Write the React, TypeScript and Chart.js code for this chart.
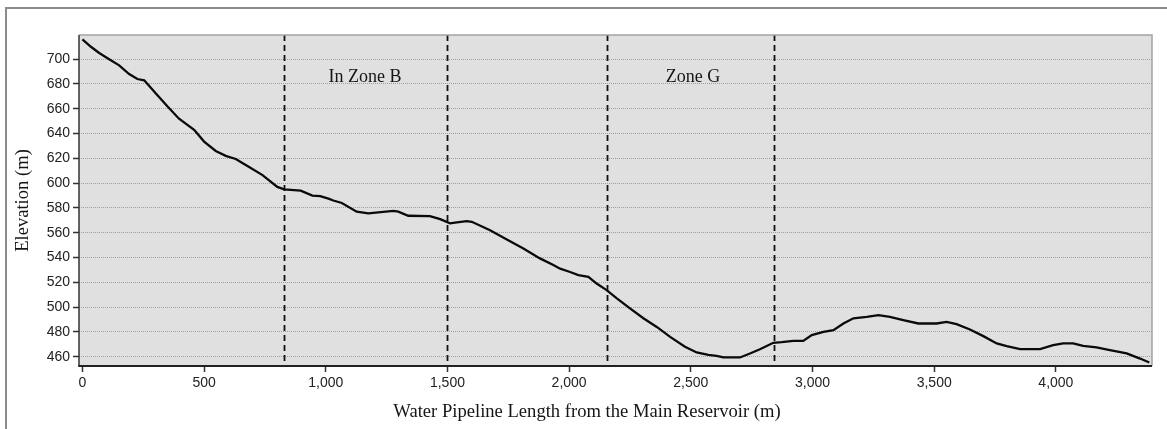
import React, { useEffect, useRef } from "react";
import { Chart, registerables } from "chart.js";

Chart.register(...registerables);

// Pipeline profile: distance (m) and elevation (m)
const distances = [
  0, 35, 69, 110, 151, 192, 226, 254, 301, 349, 397, 459, 500, 548, 589, 630,
  685, 740, 801, 829, 897, 945, 977, 1011, 1031, 1066, 1127, 1175, 1216, 1278,
  1298, 1339, 1428, 1470, 1511, 1531, 1579, 1600, 1675, 1744, 1812, 1880, 1935,
  1963, 2004, 2038, 2079, 2113, 2154, 2196, 2250, 2305, 2360, 2415, 2476, 2524,
  2572, 2606, 2634, 2702, 2743, 2784, 2839, 2873, 2921, 2962, 2997, 3045, 3086,
  3127, 3168, 3223, 3271, 3318, 3373, 3435, 3510, 3551, 3592, 3647, 3702, 3757,
  3798, 3853, 3935, 3989, 4030, 4071, 4112, 4167, 4222, 4291, 4346, 4384,
];
const elevations = [
  716, 710, 705, 700, 695, 688, 684, 683, 672.5, 662, 652, 643, 633.5, 626, 622,
  619.5, 613, 606.5, 597, 595, 594, 590, 589.6, 587.5, 586, 584, 577, 575.6,
  576.4, 577.7, 577, 573.7, 573.4, 571, 567.6, 568.1, 569.4, 568.8, 562, 554.6,
  547.3, 539.3, 534, 531, 528.3, 525.8, 524.5, 519, 513.7, 507, 499, 491, 484,
  476, 468, 463.4, 461.5, 460.7, 459.4, 459.4, 462.6, 466, 471.2, 471.7, 472.8,
  472.8, 477.4, 480, 481.4, 486.8, 491, 492.2, 493.5, 492.2, 489.6, 486.8, 486.8,
  488.1, 486.3, 482, 476.6, 470.7, 468.5, 466.1, 466.1, 469.3, 470.7, 470.7,
  468.8, 467.5, 465.3, 462.6, 458.5, 455.3,
];

const xTicks = [0, 500, 1000, 1500, 2000, 2500, 3000, 3500, 4000];
const yTicks = [460, 480, 500, 520, 540, 560, 580, 600, 620, 640, 660, 680, 700];

const zoneBoundaries = [830, 1500, 2157, 2841];
const zoneLabels = ["In Zone B", "Zone G"];
const zoneLabelX = [1161, 2509];
const zoneLabelY = 681.5;

const xTitle = "Water Pipeline Length from the Main Reservoir (m)";
const yTitle = "Elevation (m)";

const X_MIN = -14;
const X_MAX = 4395;
const Y_MIN = 452.5;
const Y_MAX = 719.5;

const TICK_FONT = { family: "'Liberation Sans', Arial, sans-serif", size: 14 };
const SERIF = "'Liberation Serif', 'Times New Roman', serif";

const decorPlugin = {
  id: "decor",
  beforeDraw(chart: any) {
    const { ctx, chartArea } = chart;
    const { left, top, right, bottom } = chartArea;
    ctx.save();
    ctx.fillStyle = "#e0e0e0";
    ctx.fillRect(left, top, right - left, bottom - top);
    ctx.restore();
  },
  beforeDatasetsDraw(chart: any) {
    const { ctx, chartArea, scales } = chart;
    const xs = scales.x;
    ctx.save();
    ctx.strokeStyle = "#111";
    ctx.lineWidth = 1.8;
    ctx.setLineDash([6, 4]);
    zoneBoundaries.forEach((v) => {
      const px = Math.round(xs.getPixelForValue(v)) + 0.5;
      ctx.beginPath();
      ctx.moveTo(px, chartArea.top);
      ctx.lineTo(px, chartArea.bottom);
      ctx.stroke();
    });
    ctx.restore();
  },
  afterDatasetsDraw(chart: any) {
    const { ctx, chartArea } = chart;
    const { left, top, right, bottom } = chartArea;
    ctx.save();
    ctx.setLineDash([]);
    ctx.strokeStyle = "#a2a2a2";
    ctx.lineWidth = 1.5;
    ctx.beginPath();
    ctx.moveTo(left, top);
    ctx.lineTo(right, top);
    ctx.lineTo(right, bottom);
    ctx.stroke();
    ctx.strokeStyle = "#333";
    ctx.lineWidth = 1.5;
    ctx.beginPath();
    ctx.moveTo(left, top);
    ctx.lineTo(left, bottom);
    ctx.stroke();
    ctx.strokeStyle = "#222";
    ctx.lineWidth = 2;
    ctx.beginPath();
    ctx.moveTo(left - 0.75, bottom);
    ctx.lineTo(right, bottom);
    ctx.stroke();
    ctx.restore();
  },
  afterDraw(chart: any) {
    const { ctx, chartArea, scales, width, height } = chart;
    const xs = scales.x;
    const ys = scales.y;
    ctx.save();
    ctx.fillStyle = "#151515";
    ctx.font = `18px ${SERIF}`;
    ctx.textAlign = "center";
    ctx.textBaseline = "alphabetic";
    zoneLabels.forEach((t, i) => {
      ctx.fillText(t, xs.getPixelForValue(zoneLabelX[i]), ys.getPixelForValue(zoneLabelY));
    });
    // x title: centered on the whole figure
    ctx.font = `18.6px ${SERIF}`;
    ctx.fillText(xTitle, width / 2, height - 12);
    // y title
    ctx.translate(16, (chartArea.top + chartArea.bottom) / 2);
    ctx.rotate(-Math.PI / 2);
    ctx.textBaseline = "middle";
    ctx.fillText(yTitle, 0, 0);
    ctx.restore();
  },
};

export default function App() {
  const ref = useRef<HTMLCanvasElement | null>(null);

  useEffect(() => {
    if (!ref.current) return;
    const chart = new Chart(ref.current, {
      type: "line",
      data: {
        datasets: [
          {
            data: distances.map((d, i) => ({ x: d, y: elevations[i] })),
            borderColor: "#0a0a0a",
            borderWidth: 2.3,
            pointRadius: 0,
            tension: 0,
            fill: false,
          },
        ],
      },
      options: {
        animation: false,
        responsive: false,
        events: [],
        layout: { padding: { top: 26, right: 15, left: 0, bottom: 0 } },
        plugins: {
          legend: { display: false },
          tooltip: { enabled: false },
          title: { display: false },
        },
        scales: {
          x: {
            type: "linear",
            min: X_MIN,
            max: X_MAX,
            afterBuildTicks: (scale: any) => {
              scale.ticks = xTicks.map((v) => ({ value: v }));
            },
            afterFit: (scale: any) => {
              scale.height = 63;
            },
            ticks: {
              font: TICK_FONT,
              color: "#222",
              padding: 3,
              maxRotation: 0,
              autoSkip: false,
              callback: (v: any) => Number(v).toLocaleString("en-US"),
            },
            grid: {
              display: true,
              drawOnChartArea: false,
              drawTicks: true,
              tickLength: 6,
              tickColor: "#333",
              tickWidth: 1.5,
            },
            border: { display: false },
          },
          y: {
            type: "linear",
            min: Y_MIN,
            max: Y_MAX,
            afterBuildTicks: (scale: any) => {
              scale.ticks = yTicks.map((v) => ({ value: v }));
            },
            afterFit: (scale: any) => {
              scale.width = 72;
            },
            ticks: {
              font: TICK_FONT,
              color: "#222",
              padding: 3,
              autoSkip: false,
            },
            grid: {
              display: true,
              drawOnChartArea: true,
              drawTicks: true,
              color: "#9e9e9e",
              lineWidth: 1,
              tickLength: 6,
              tickColor: "#333",
              tickWidth: 1.5,
              tickBorderDash: [],
            },
            border: { display: false, dash: [1, 1] },
          },
        },
      },
      plugins: [decorPlugin],
    } as any);
    return () => chart.destroy();
  }, []);

  return (
    <div
      style={{
        position: "fixed",
        left: 5,
        top: 7,
        width: 1162,
        height: 422,
        boxSizing: "border-box",
        borderLeft: "2px solid #8c8c8c",
        borderTop: "2px solid #8c8c8c",
        background: "#fff",
      }}
    >
      <canvas ref={ref} width={1160} height={420} style={{ display: "block" }} />
    </div>
  );
}
